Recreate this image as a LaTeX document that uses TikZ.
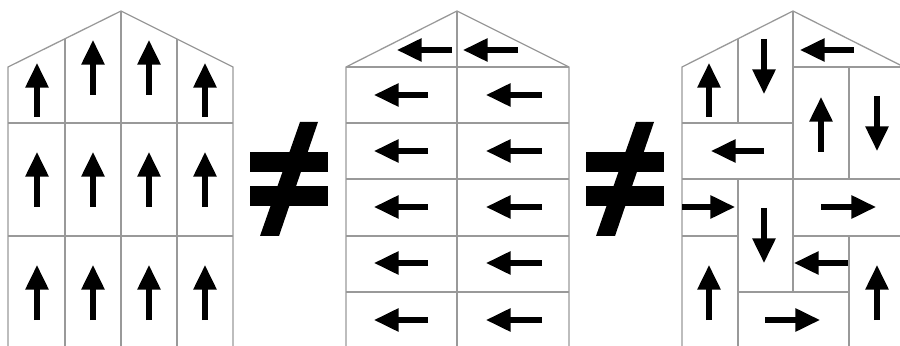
\documentclass[tikz,border=0pt]{standalone}
\usetikzlibrary{arrows.meta}
\tikzset{
    wall/.style={draw=black!40, line width=1.1pt},
    spin/.style={line width=4.3pt, -{Triangle[length=21pt, width=19pt]}},
    neqsign/.pic={
        \fill (0,152) rectangle (78,172);
        \fill (0,186) rectangle (78,206);
        \fill (50,122) -- (68,122) -- (29,236) -- (10,236) -- cycle;
    }
}

\begin{document}
\begin{tikzpicture}[x=0.03cm, y=-0.03cm]
\useasboundingbox (0,0) rectangle (900,346);

% Ferromagnet: all spins up
\draw[wall] (8,346) -- (8,67) -- (121,11) -- (233,67) -- (233,346);
\draw[wall] (65,39) -- (65,346);
\draw[wall] (121,11) -- (121,346);
\draw[wall] (177,39) -- (177,346);
\draw[wall] (8,123) -- (233,123);
\draw[wall] (8,236) -- (233,236);
\draw[spin] (37,117) -- (37,63);
\draw[spin] (93,95) -- (93,40);
\draw[spin] (149,95) -- (149,40);
\draw[spin] (205,117) -- (205,63);
\foreach \x in {37,93,149,205} {
    \draw[spin] (\x,207) -- (\x,152);
    \draw[spin] (\x,320) -- (\x,265);
}

\pic at (250,0) {neqsign};

% Ferromagnet: all spins left
\draw[wall] (346,346) -- (346,67) -- (457,11) -- (569,67) -- (569,346);
\draw[wall] (457,11) -- (457,346);
\foreach \y in {67,123,179,236,292}
    \draw[wall] (346,\y) -- (569,\y);
\draw[spin] (452,50) -- (397,50);
\draw[spin] (518,50) -- (463,50);
\foreach \y in {95,151,207,263,320} {
    \draw[spin] (428,\y) -- (374,\y);
    \draw[spin] (542,\y) -- (486,\y);
}

\pic at (586,0) {neqsign};

% Disordered domains
\draw[wall] (682,346) -- (682,67) -- (793,11) -- (904,67) -- (904,346);
\draw[wall] (738,39) -- (738,123);
\draw[wall] (738,179) -- (738,346);
\draw[wall] (793,11) -- (793,292);
\draw[wall] (849,67) -- (849,179);
\draw[wall] (849,236) -- (849,346);
\draw[wall] (793,67) -- (904,67);
\draw[wall] (682,123) -- (793,123);
\draw[wall] (682,179) -- (904,179);
\draw[wall] (682,236) -- (738,236);
\draw[wall] (793,236) -- (904,236);
\draw[wall] (738,292) -- (849,292);
\draw[spin] (709,117) -- (709,63);
\draw[spin] (764,39) -- (764,94);
\draw[spin] (854,50) -- (800,50);
\draw[spin] (821,152) -- (821,97);
\draw[spin] (877,96) -- (877,151);
\draw[spin] (764,151) -- (711,151);
\draw[spin] (682,207) -- (735,207);
\draw[spin] (764,208) -- (764,263);
\draw[spin] (821,207) -- (876,207);
\draw[spin] (709,320) -- (709,265);
\draw[spin] (848,263) -- (794,263);
\draw[spin] (877,320) -- (877,265);
\draw[spin] (765,320) -- (820,320);

\end{tikzpicture}
\end{document}
